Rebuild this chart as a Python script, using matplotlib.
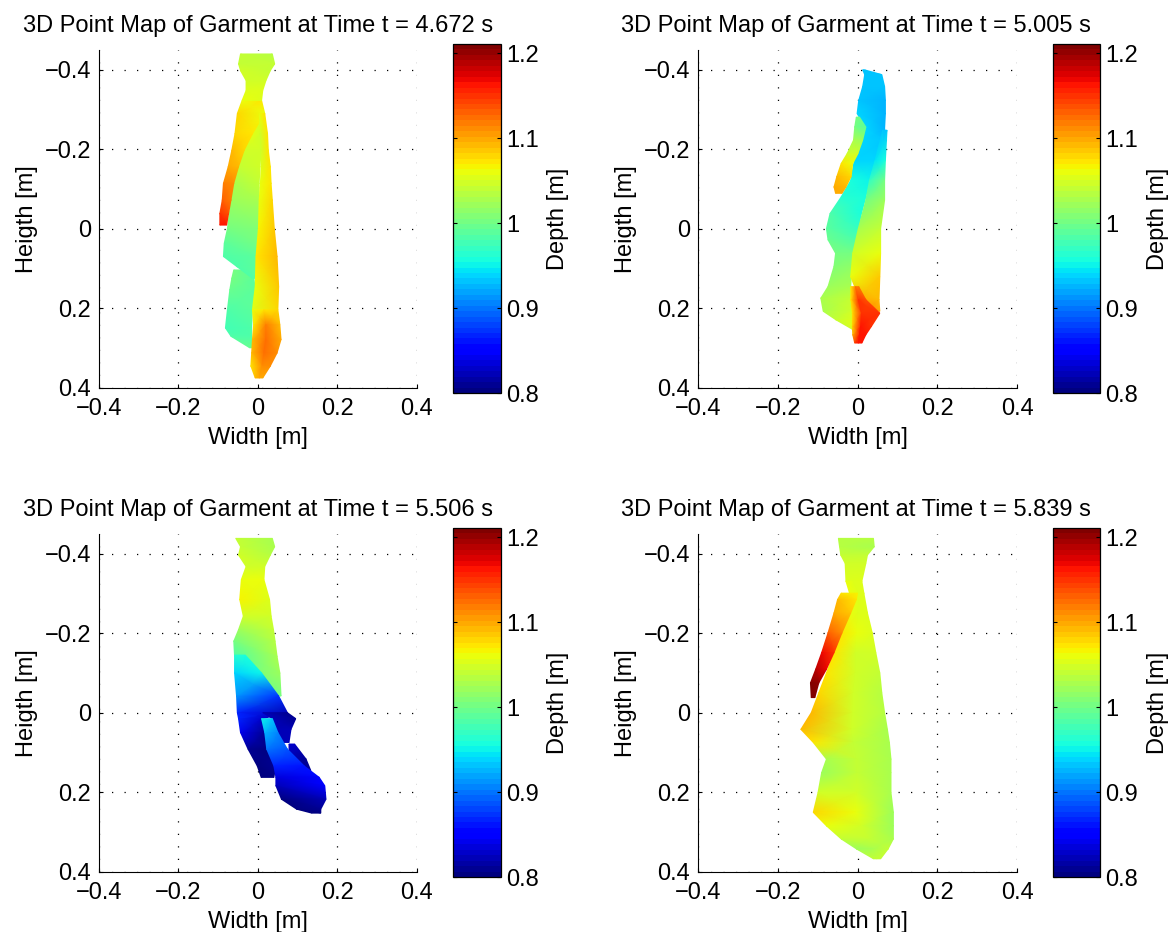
import matplotlib
matplotlib.use("Agg")
import matplotlib.pyplot as plt
import numpy as np
from matplotlib.cm import ScalarMappable
from matplotlib.colors import Normalize

plt.rcParams['font.family'] = ['Liberation Sans', 'DejaVu Sans']

TITLES = ["3D Point Map of Garment at Time t = 4.672 s",
          "3D Point Map of Garment at Time t = 5.005 s",
          "3D Point Map of Garment at Time t = 5.506 s",
          "3D Point Map of Garment at Time t = 5.839 s"]
TICKS = [-0.4, -0.2, 0, 0.2, 0.4]
TICK_LABELS = ["\u22120.4", "\u22120.2", "0", "0.2", "0.4"]
DEPTH_TICKS = [0.8, 0.9, 1.0, 1.1, 1.2]
DEPTH_LABELS = ["0.8", "0.9", "1", "1.1", "1.2"]
DEPTH_MIN, DEPTH_MAX = 0.8, 1.2106

# Panel 1: each piece is heights, [left..right] widths per height, depths per height
P1_NECK_Y = [-.440, -.415, -.398, -.373, -.348, -.323]
P1_NECK_X = [[-.044, .036], [-.049, .042], [-.044, .031], [-.030, .020], [-.030, .012], [-.040, .009]]
P1_NECK_D = [[1.04, 1.035], [1.04, 1.04], [1.05, 1.04], [1.05, 1.05], [1.055, 1.055], [1.06, 1.055]]

P1_BODY_Y = [-.285, -.239, -.197, -.156, -.114, -.072, 0, .037, .070, .095, .125]
P1_BODY_X = [[-.011, .003], [-.025, .008], [-.040, .008], [-.054, .005], [-.061, .003], [-.068, .003],
             [-.077, .001], [-.085, -.002], [-.087, -.005], [-.054, -.005], [-.014, -.005]]
P1_BODY_D = [[1.055, 1.055], [1.06, 1.05], [1.05, 1.05], [1.04, 1.05], [1.03, 1.04], [1.02, 1.03],
             [1.0, 1.01], [.99, 1.0], [.985, .99], [.98, .99], [.98, .99]]

P1_LOWER_Y = [.104, .125, .154, .204, .250, .271, .300]
P1_LOWER_X = [[-.061, -.040], [-.066, -.010], [-.071, -.007], [-.077, -.014], [-.082, -.016], [-.068, -.016], [-.021, -.011]]
P1_LOWER_D = [[1.0, .995], [1.0, .99], [.995, .99], [.985, .99], [.975, .985], [.98, .985], [.995, .995]]

P1_RIGHT_Y = [-.290, -.239, -.197, -.156, -.114, -.072, 0, .070, .146, .204]
P1_RIGHT_X = [[.003, .017], [.006, .024], [.008, .026], [.008, .031], [.006, .033], [.003, .036],
              [.001, .041], [-.005, .048], [-.007, .052], [-.014, .050]]
P1_RIGHT_D = [[1.06, 1.07], [1.05, 1.07], [1.05, 1.07], [1.055, 1.07], [1.06, 1.075], [1.06, 1.08],
              [1.065, 1.085], [1.07, 1.09], [1.06, 1.085], [1.055, 1.08]]

P1_BOTTOM_Y = [.204, .242, .279, .313, .346, .376]
P1_BOTTOM_X = [[-.014, .015, .050], [-.011, .020, .055], [-.014, .020, .058], [-.016, .015, .048],
               [-.018, .010, .031], [-.007, .003, .012]]
P1_BOTTOM_D = [[1.06, 1.07, 1.08], [1.07, 1.12, 1.09], [1.09, 1.125, 1.10], [1.09, 1.125, 1.11],
               [1.07, 1.11, 1.11], [1.09, 1.10, 1.10]]

P1_FOLD_Y = [-.323, -.290, -.239, -.197, -.156, -.114, -.072, -.038, -.009]
P1_FOLD_X = [[-.040, .009], [-.052, .017], [-.058, -.014], [-.066, -.035], [-.075, -.049],
             [-.087, -.061], [-.090, -.068], [-.096, -.074], [-.096, -.079]]
P1_FOLD_D = [[1.06, 1.07], [1.08, 1.06], [1.08, 1.07], [1.09, 1.08], [1.10, 1.09],
             [1.12, 1.11], [1.13, 1.12], [1.15, 1.14], [1.16, 1.16]]

# Panel 2
P2_BAND_Y = [-.400, -.388, -.358, -.323, -.290, -.252, -.223, -.172, -.122, -.080, -.038, 0, .028,
             .062, .095, .146, .175, .208, .229, .254]
P2_BAND_X = [[.013, .018], [.018, .061], [.013, .068], [.003, .070], [-.001, .070], [.021, .068],
             [.011, .073], [-.008, .044], [-.017, .030], [-.041, .021], [-.069, .010], [-.078, .002],
             [-.074, -.005], [-.055, -.012], [-.059, -.014], [-.074, -.017], [-.092, -.017],
             [-.086, -.012], [-.055, -.011], [-.012, -.010]]
P2_BAND_D = [[.93, .93], [.93, .93], [.93, .93], [.93, .925], [.94, .925], [.935, .925],
             [.935, .93], [.94, .94], [.955, .95], [.965, .955], [.98, .96], [.99, .97], [.995, .985],
             [1.0, 1.0], [1.01, 1.015], [1.02, 1.03], [1.03, 1.04], [1.03, 1.05], [1.04, 1.055], [1.05, 1.06]]

P2_RIGHT_Y = [-.248, -.172, -.122, -.072, 0, .062, .121, .179, .208]
P2_RIGHT_X = [[.063, .074], [.044, .070], [.030, .068], [.021, .068], [.002, .058], [-.012, .058],
              [-.017, .056], [.006, .054], [.035, .056]]
P2_RIGHT_D = [[.93, .93], [.945, .96], [.97, 1.0], [1.0, 1.02], [1.03, 1.04], [1.05, 1.06],
              [1.06, 1.085], [1.10, 1.09], [1.13, 1.10]]

P2_RED_Y = [.146, .179, .213, .246, .267, .288]
P2_RED_X = [[-.017, -.005, .003], [-.017, .002, .021], [-.013, .010, .056], [-.013, .008, .035],
            [-.012, .005, .021], [-.007, .002, .011]]
P2_RED_D = [[1.07, 1.12, 1.12], [1.07, 1.15, 1.14], [1.07, 1.15, 1.15], [1.08, 1.16, 1.15],
            [1.09, 1.16, 1.16], [1.15, 1.16, 1.16]]

P2_FOLD_Y = [-.281, -.256, -.223, -.189, -.164, -.131, -.105, -.089]
P2_FOLD_X = [[-.003, .005], [-.007, .021], [-.010, .013], [-.026, .001], [-.041, -.012],
             [-.052, -.016], [-.059, -.029], [-.055, -.039]]
P2_FOLD_D = [[1.0, 1.0], [1.0, .99], [1.03, 1.02], [1.05, 1.05], [1.07, 1.06], [1.09, 1.08],
             [1.10, 1.09], [1.10, 1.10]]

# Panel 3
P3_TOP_Y = [-.439, -.418, -.397, -.368, -.335, -.285, -.243, -.209, -.180, -.142, -.100, -.042]
P3_TOP_X = [[-.056, .036], [-.044, .042], [-.049, .031], [-.030, .017], [-.042, .015], [-.046, .029],
            [-.037, .033], [-.049, .039], [-.061, .043], [-.059, .048], [.008, .055], [.050, .058]]
P3_TOP_D = [[1.04, 1.03], [1.04, 1.03], [1.05, 1.035], [1.045, 1.045], [1.06, 1.06], [1.065, 1.055],
            [1.045, 1.05], [1.02, 1.04], [1.0, 1.035], [.98, 1.03], [1.01, 1.02], [1.0, 1.0]]

P3_UPPER_Y = [-.145, -.100, -.042, 0, .015, .050, .092, .134, .163]
P3_UPPER_X = [[-.059, -.032], [-.059, .009], [-.054, .052], [-.052, .074], [-.049, .012],
              [-.044, .017], [-.025, .026], [-.002, .045], [.008, .040]]
P3_UPPER_D = [[.965, .96], [.94, .95], [.91, .875], [.865, .825], [.865, .83], [.84, .81],
              [.81, .80], [.80, .81], [.80, .80]]

P3_FLAP_Y = [0, .015, .042, .075]
P3_FLAP_X = [[.012, .074], [.036, .095], [.045, .083], [.055, .078]]
P3_FLAP_D = [[.82, .81], [.82, .81], [.82, .82], [.82, .82]]

P3_EDGE_Y = [.079, .117, .146]
P3_EDGE_X = [[.078, .092], [.078, .121], [.111, .133]]
P3_EDGE_D = [[.83, .83], [.82, .81], [.81, .81]]

P3_STRIP_Y = [.015, .050, .092, .134, .163, .184, .218, .243, .253]
P3_STRIP_X = [[.009, .036], [.017, .050], [.022, .074], [.040, .116], [.045, .154], [.045, .168],
              [.059, .171], [.097, .158], [.135, .158]]
P3_STRIP_D = [[.95, .93], [.925, .905], [.90, .885], [.865, .86], [.835, .855], [.82, .845],
              [.80, .82], [.80, .81], [.80, .80]]

# Panel 4
P4_NECK_Y = [-.439, -.418, -.397, -.376, -.331]
P4_NECK_X = [[-.048, .040], [-.045, .042], [-.042, .025], [-.031, .021], [-.029, .011]]
P4_NECK_D = [[1.035, 1.035], [1.035, 1.03], [1.04, 1.04], [1.05, 1.05], [1.055, 1.055]]

P4_BODY_Y = [-.331, -.301, -.251, -.201, -.151, -.100, -.050, 0, .042, .075, .117, .151, .201,
             .251, .285, .318, .343, .368]
P4_BODY_X = [[-.029, -.010, .011], [-.020, .005, .016], [-.022, .002, .025], [-.041, -.002, .037],
             [-.059, -.005, .046], [-.078, -.005, .056], [-.097, -.010, .061], [-.116, -.012, .068],
             [-.142, -.015, .075], [-.111, -.010, .080], [-.078, -.002, .084], [-.090, .000, .084],
             [-.099, -.002, .084], [-.111, -.005, .090], [-.078, .010, .090], [-.041, .030, .090],
             [-.003, .040, .077], [.040, .048, .058]]
P4_BODY_D = [[1.06, 1.055, 1.055], [1.06, 1.055, 1.055], [1.06, 1.055, 1.055], [1.07, 1.06, 1.055],
             [1.07, 1.05, 1.05], [1.07, 1.05, 1.04], [1.08, 1.05, 1.035], [1.09, 1.05, 1.035],
             [1.095, 1.05, 1.03], [1.07, 1.04, 1.03], [1.03, 1.04, 1.03], [1.02, 1.04, 1.03],
             [1.05, 1.05, 1.03], [1.08, 1.06, 1.02], [1.06, 1.05, 1.02], [1.04, 1.04, 1.03],
             [1.02, 1.03, 1.04], [1.04, 1.04, 1.04]]

P4_FOLD_Y = [-.301, -.285, -.251, -.201, -.151, -.109, -.075, -.038]
P4_FOLD_X = [[-.041, .000], [-.050, -.003], [-.059, -.017], [-.074, -.039], [-.090, -.059],
             [-.105, -.078], [-.118, -.097], [-.116, -.107]]
P4_FOLD_D = [[1.07, 1.065], [1.09, 1.07], [1.10, 1.085], [1.13, 1.11], [1.17, 1.15],
             [1.19, 1.17], [1.21, 1.20], [1.21, 1.21]]

PANEL_PIECES = [
    [(P1_LOWER_Y, P1_LOWER_X, P1_LOWER_D), (P1_BODY_Y, P1_BODY_X, P1_BODY_D),
     (P1_FOLD_Y, P1_FOLD_X, P1_FOLD_D), (P1_NECK_Y, P1_NECK_X, P1_NECK_D),
     (P1_RIGHT_Y, P1_RIGHT_X, P1_RIGHT_D), (P1_BOTTOM_Y, P1_BOTTOM_X, P1_BOTTOM_D)],
    [(P2_BAND_Y, P2_BAND_X, P2_BAND_D), (P2_RIGHT_Y, P2_RIGHT_X, P2_RIGHT_D),
     (P2_RED_Y, P2_RED_X, P2_RED_D), (P2_FOLD_Y, P2_FOLD_X, P2_FOLD_D)],
    [(P3_TOP_Y, P3_TOP_X, P3_TOP_D), (P3_UPPER_Y, P3_UPPER_X, P3_UPPER_D),
     (P3_FLAP_Y, P3_FLAP_X, P3_FLAP_D), (P3_EDGE_Y, P3_EDGE_X, P3_EDGE_D),
     (P3_STRIP_Y, P3_STRIP_X, P3_STRIP_D)],
    [(P4_NECK_Y, P4_NECK_X, P4_NECK_D), (P4_BODY_Y, P4_BODY_X, P4_BODY_D),
     (P4_FOLD_Y, P4_FOLD_X, P4_FOLD_D)],
]

W, H = 1172, 932
fig = plt.figure(figsize=(W / 100, H / 100), dpi=100)
cmap = plt.get_cmap('jet', 64)
norm = Normalize(DEPTH_MIN, DEPTH_MAX)


def rect(x0, x1, y0, y1):
    return [x0 / W, 1 - y1 / H, (x1 - x0) / W, (y1 - y0) / H]


AX_BOXES = [(99, 417, 50, 387.5), (698, 1017, 50, 387.5), (99, 417, 534, 871.5), (698, 1017, 534, 871.5)]
CB_BOXES = [(452.5, 500.5, 44, 393), (1052.5, 1100, 44, 393), (452.5, 500.5, 528, 877), (1052.5, 1100, 528, 877)]
TITLE_SIZE, LABEL_SIZE, TICK_SIZE = 17, 17, 17

for i in range(4):
    ax = fig.add_axes(rect(*AX_BOXES[i]))
    for ys, xs, ds in PANEL_PIECES[i]:
        xa = np.array(xs)
        ya = np.repeat(np.array(ys)[:, None], xa.shape[1], axis=1)
        ax.pcolormesh(xa, ya, np.array(ds), shading='gouraud', cmap=cmap, norm=norm, zorder=2)
    ax.set_xlim(-0.4, 0.4)
    ax.set_ylim(0.4, -0.45)
    ax.set_xticks(TICKS, TICK_LABELS)
    ax.set_yticks(TICKS, TICK_LABELS)
    ax.tick_params(direction='in', length=3, width=0.8, labelsize=TICK_SIZE)
    ax.tick_params(axis='x', pad=7.5)
    ax.tick_params(axis='y', pad=5.5)
    ax.spines['top'].set_visible(False)
    ax.spines['right'].set_visible(False)
    ax.grid(True, color='black', linewidth=0.9, linestyle=(0, (1, 9)), zorder=1)
    ax.set_axisbelow(True)
    ax.set_xlabel("Width [m]", fontsize=LABEL_SIZE, labelpad=5)
    ax.set_ylabel("Heigth [m]", fontsize=LABEL_SIZE, labelpad=5)
    ax.set_title(TITLES[i], fontsize=TITLE_SIZE, loc='left', x=-0.24, pad=13)

    cax = fig.add_axes(rect(*CB_BOXES[i]))
    cb = fig.colorbar(ScalarMappable(norm=norm, cmap=cmap), cax=cax)
    cb.set_ticks(DEPTH_TICKS, labels=DEPTH_LABELS)
    cb.ax.tick_params(direction='in', length=3, width=0.8, labelsize=TICK_SIZE, pad=4, left=True, right=True)
    cb.outline.set_linewidth(0.9)
    cb.set_label("Depth [m]", fontsize=LABEL_SIZE, labelpad=6)

fig.savefig("out.png", dpi=100)
